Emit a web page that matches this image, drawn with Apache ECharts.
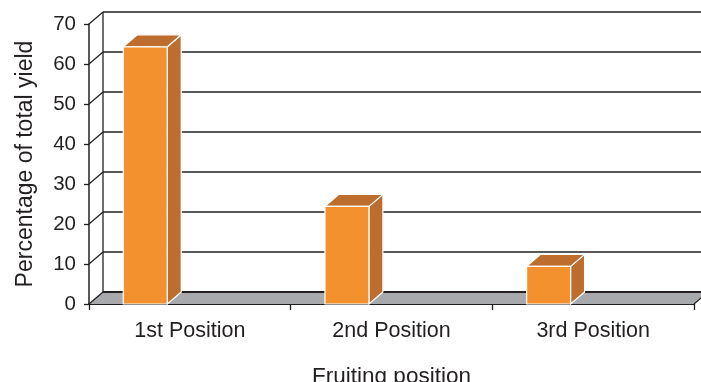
<!DOCTYPE html>
<html>
<head>
<meta charset="utf-8">
<script src="https://cdn.jsdelivr.net/npm/echarts@6/dist/echarts.min.js"></script>
<style>html,body{margin:0;padding:0;background:#fff}#c{width:701px;height:382px}</style>
</head>
<body>
<div id="c"></div>
<script>
var categories = ['1st Position', '2nd Position', '3rd Position'];
var values = [64.3, 24.4, 9.4];
var yTicks = [0, 10, 20, 30, 40, 50, 60, 70];
var xTitle = 'Fruiting position';
var yTitle = 'Percentage of total yield';

var DX = 14, DY = -12;
var TXT = '#231f20';
var chart = echarts.init(document.getElementById('c'));

function wallItem(params, api) {
  var cs = params.coordSys;
  var L = cs.x, R = cs.x + cs.width;
  var v = api.value(0);
  var y = api.coord([0, v])[1];
  var children = [];
  var lineStyle = { stroke: TXT, lineWidth: 1.3 };
  if (v === 0) {
    children.push({
      type: 'polygon',
      shape: { points: [[L, y], [R, y], [R + DX, y + DY], [L + DX, y + DY]] },
      style: { fill: '#a7a9ac', stroke: null }
    });
    children.push({ type: 'line', shape: { x1: L + DX, y1: y + DY, x2: R + DX, y2: y + DY }, style: { stroke: TXT, lineWidth: 2 } });
    children.push({ type: 'line', shape: { x1: R, y1: y, x2: R + DX, y2: y + DY }, style: { stroke: TXT, lineWidth: 1.3 } });
    var yTop = api.coord([0, yTicks[yTicks.length - 1]])[1];
    children.push({ type: 'line', shape: { x1: L + DX, y1: yTop + DY, x2: L + DX, y2: y + DY }, style: lineStyle });
  } else {
    children.push({ type: 'line', shape: { x1: L + DX, y1: y + DY, x2: R + DX, y2: y + DY }, style: lineStyle });
  }
  children.push({ type: 'line', shape: { x1: L, y1: y, x2: L + DX, y2: y + DY }, style: lineStyle });
  return { type: 'group', children: children };
}

function barItem(params, api) {
  var idx = api.value(0);
  var val = api.value(1);
  var top = api.coord([idx, val]);
  var base = api.coord([idx, 0]);
  var bw = api.size([1, 0])[0];
  var left = top[0] - 0.33 * bw;
  var w = 0.218 * bw;
  var t = top[1], b = base[1];
  var st = { stroke: '#ffffff', lineWidth: 1.2, lineJoin: 'round' };
  return {
    type: 'group',
    children: [
      { type: 'polygon', shape: { points: [[left + w, t], [left + w + DX, t + DY], [left + w + DX, b + DY], [left + w, b]] },
        style: Object.assign({ fill: '#bd6d2e' }, st) },
      { type: 'polygon', shape: { points: [[left, t], [left + w, t], [left + w + DX, t + DY], [left + DX, t + DY]] },
        style: Object.assign({ fill: '#bd6d2e' }, st) },
      { type: 'rect', shape: { x: left, y: t, width: w, height: b - t },
        style: Object.assign({ fill: '#f4912f' }, st) }
    ]
  };
}

chart.setOption({
  animation: false,
  backgroundColor: '#ffffff',
  grid: { left: 89, right: 7, top: 24, bottom: 78, containLabel: false, outerBoundsMode: 'none' },
  xAxis: {
    type: 'category',
    data: categories,
    boundaryGap: true,
    name: xTitle,
    nameLocation: 'middle',
    nameGap: 61,
    nameTextStyle: { fontFamily: 'Liberation Sans', fontSize: 22.5, color: TXT },
    axisLine: { show: true, lineStyle: { color: TXT, width: 2 } },
    axisTick: { show: true, length: 6, lineStyle: { color: TXT, width: 1.3 } },
    axisLabel: { fontFamily: 'Liberation Sans', fontSize: 21.5, color: TXT, margin: 16 },
    splitLine: { show: false }
  },
  yAxis: {
    type: 'value',
    min: 0, max: 70, interval: 10,
    name: yTitle,
    nameLocation: 'middle',
    nameGap: 52,
    nameTextStyle: { fontFamily: 'Liberation Sans', fontSize: 23, color: TXT },
    axisLine: { show: true, lineStyle: { color: TXT, width: 1.5 } },
    axisTick: { show: true, length: 5, lineStyle: { color: TXT, width: 1.3 } },
    axisLabel: { fontFamily: 'Liberation Sans', fontSize: 20.5, color: TXT, margin: 13, verticalAlign: 'middle', padding: [7, 0, 0, 0] },
    splitLine: { show: false }
  },
  series: [
    {
      type: 'custom',
      renderItem: wallItem,
      clip: false,
      silent: true,
      z: 1,
      encode: { y: 0 },
      data: yTicks.map(function (v) { return [v]; })
    },
    {
      type: 'custom',
      renderItem: barItem,
      clip: false,
      z: 5,
      encode: { x: 0, y: 1 },
      data: values.map(function (v, i) { return [i, v]; })
    }
  ]
});
</script>
</body>
</html>
